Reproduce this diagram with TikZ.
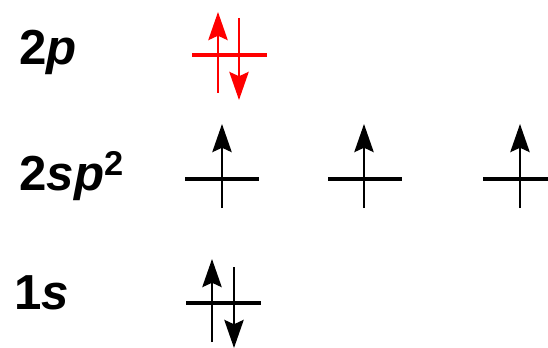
\documentclass[tikz,border=0pt]{standalone}
\usepackage{fontspec}
\setmainfont{Liberation Sans}
\usetikzlibrary{arrows.meta}

\begin{document}
\begin{tikzpicture}[x=0.02cm,y=-0.02cm,
  level/.style={line width=1.9pt},
  spin/.style={line width=1.4pt,-{Stealth[length=16pt,width=11pt,inset=2.5pt]}},
  orb/.style={anchor=base west,inner sep=0pt,font=\fontsize{28}{32}\selectfont\bfseries}]
\useasboundingbox (0,0) rectangle (548,348);

% labels
\node[orb] (lab2p) at (19,65) {2\textit{p}};
\node[orb] (labsp) at (19,191) {2\textit{sp}\textsuperscript{2}};
\node[orb] (lab1s) at (14,309) {1\textit{s}};

% 2p, paired (red)
\coordinate (p-l) at (192,55);
\coordinate (p-r) at (267,55);
\coordinate (p-up0) at (218,93);
\coordinate (p-up1) at (218,12);
\coordinate (p-dn0) at (239,18);
\coordinate (p-dn1) at (239,100);
\draw[level,red] (p-l) -- (p-r);
\draw[spin,red] (p-up0) -- (p-up1);
\draw[spin,red] (p-dn0) -- (p-dn1);

% 2sp2, three half filled
\foreach \i/\xa/\xb/\xs in {1/185/259/222, 2/328/402/364, 3/483/548/520}{
  \coordinate (sp\i-l) at (\xa,179);
  \coordinate (sp\i-r) at (\xb,179);
  \coordinate (sp\i-up0) at (\xs,208);
  \coordinate (sp\i-up1) at (\xs,124);
  \draw[level] (sp\i-l) -- (sp\i-r);
  \draw[spin] (sp\i-up0) -- (sp\i-up1);
}

% 1s, paired
\coordinate (s-l) at (186,303);
\coordinate (s-r) at (261,303);
\coordinate (s-up0) at (212,342);
\coordinate (s-up1) at (212,259);
\coordinate (s-dn0) at (234,267);
\coordinate (s-dn1) at (234,348);
\draw[level] (s-l) -- (s-r);
\draw[spin] (s-up0) -- (s-up1);
\draw[spin] (s-dn0) -- (s-dn1);

\end{tikzpicture}
\end{document}
